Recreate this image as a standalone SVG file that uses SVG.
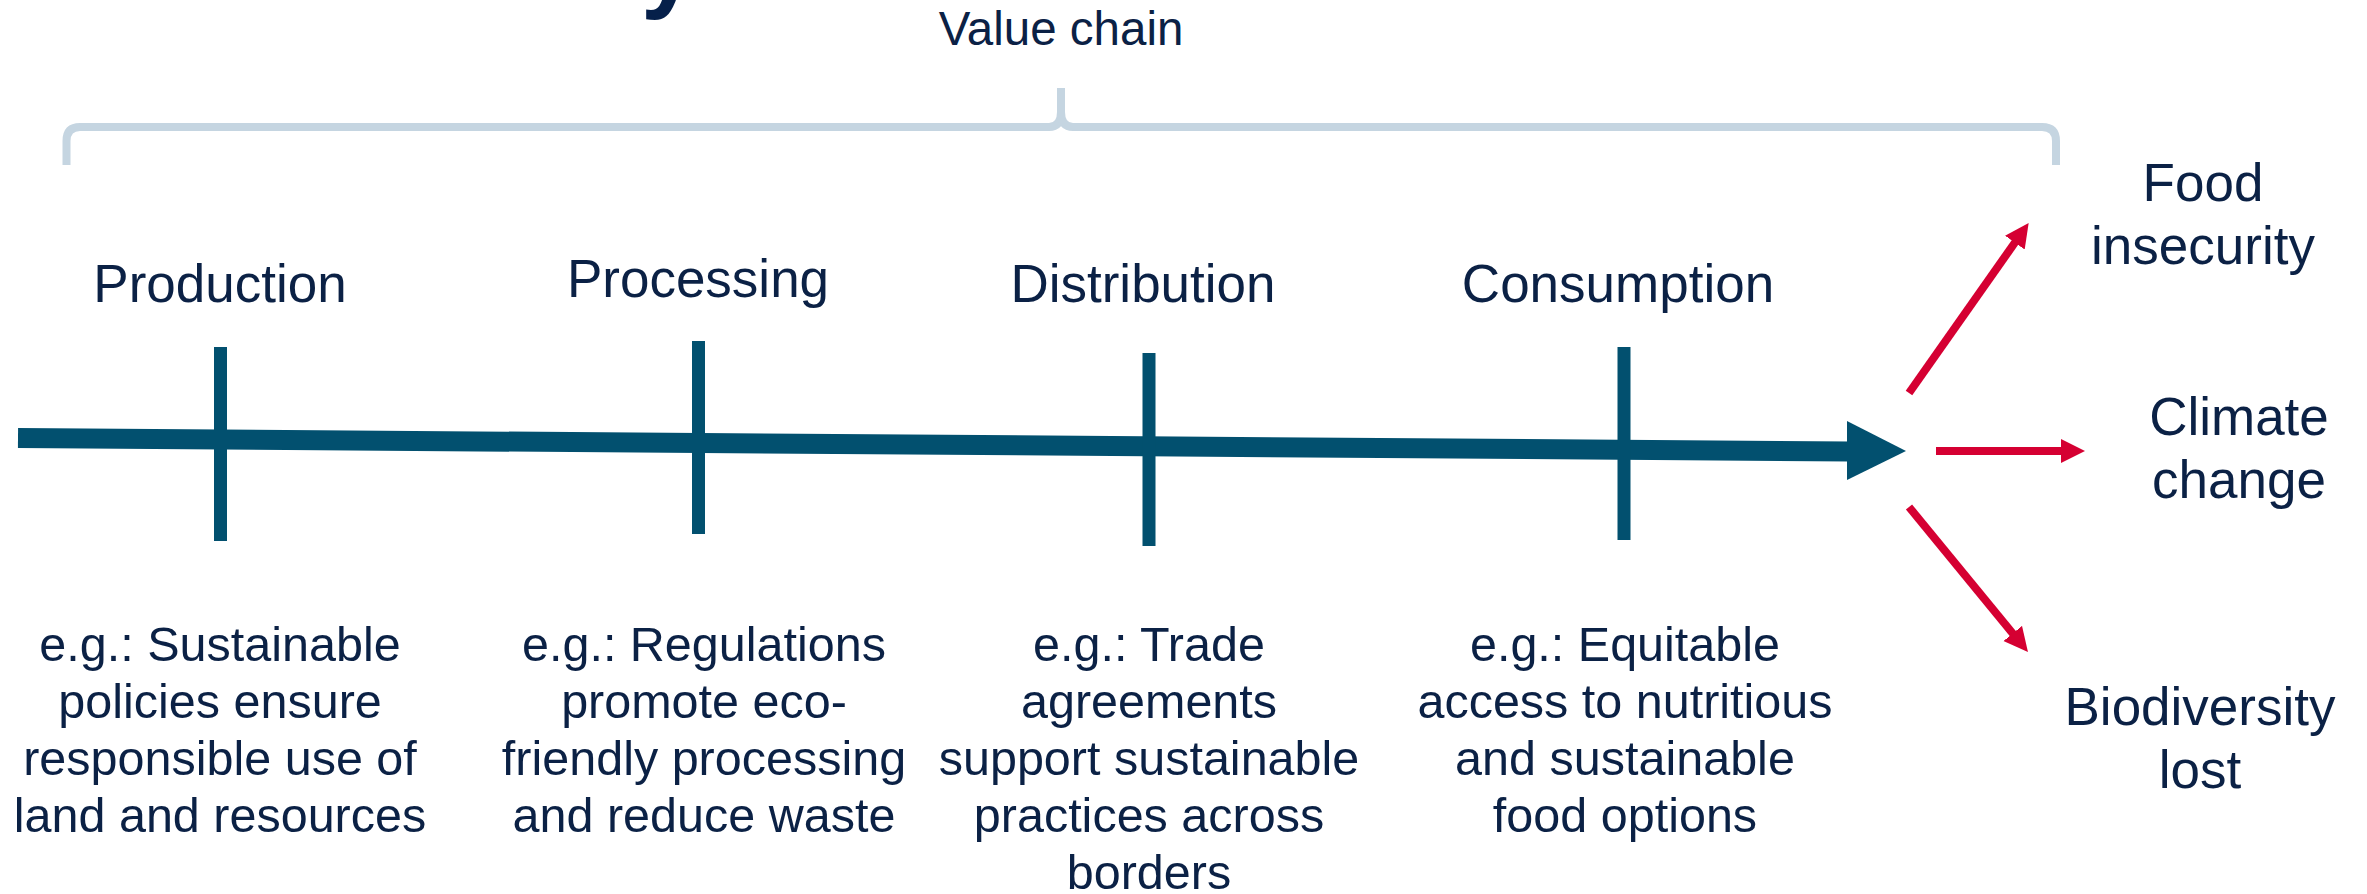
<svg xmlns="http://www.w3.org/2000/svg" width="2367" height="894" viewBox="0 0 2367 894">
  <style>
    .t { font-family: "Liberation Sans", Arial, sans-serif; fill: #0B2145; text-anchor: middle; }
    .stage { font-size: 53px; }
    .desc { font-size: 48.5px; }
    .out { font-size: 53px; }
    .tick { stroke: #02506F; stroke-width: 13; fill: none; }
    .red { stroke: #D50032; stroke-width: 8; fill: none; marker-end: url(#redHead); }
  </style>
  <defs>
    <marker id="redHead" markerUnits="userSpaceOnUse" markerWidth="26" markerHeight="26" refX="2" refY="12" orient="auto">
      <path d="M0,0 L24,12 L0,24 Z" fill="#D50032"/>
    </marker>
  </defs>
  <rect width="2367" height="894" fill="#ffffff"/>

  <!-- cropped title glyph -->
  <text x="641" y="-1" font-family="Liberation Sans, Arial, sans-serif" font-weight="bold" font-size="100" fill="#06204A">y</text>

  <g id="value-chain">
    <path d="M66.5,165 V141 Q66.5,127 80,127 H1049 Q1061,127 1061,112 V88" fill="none" stroke="#C5D5E1" stroke-width="8"/>
    <path d="M2056,165 V141 Q2056,127 2042,127 H1073 Q1061,127 1061,112" fill="none" stroke="#C5D5E1" stroke-width="8"/>
    <text class="t" x="1061" y="45" font-size="47.5">Value chain</text>
  </g>

  <g id="connectors">
    <line x1="18" y1="438" x2="1850" y2="451.5" stroke="#02506F" stroke-width="20"/>
    <polygon points="1847,421 1906,451 1847,480" fill="#02506F"/>
    <line class="red" x1="1909" y1="393" x2="2016" y2="241"/>
    <line class="red" x1="1936" y1="451" x2="2063" y2="451"/>
    <line class="red" x1="1909" y1="507" x2="2014" y2="635"/>
  </g>

  <g id="production">
    <line class="tick" x1="220.5" y1="347" x2="220.5" y2="541"/>
    <text class="t stage" x="220" y="302">Production</text>
    <text class="t desc" x="220" y="661">e.g.: Sustainable</text>
    <text class="t desc" x="220" y="718">policies ensure</text>
    <text class="t desc" x="220" y="775">responsible use of</text>
    <text class="t desc" x="220" y="832">land and resources</text>
  </g>

  <g id="processing">
    <line class="tick" x1="698.5" y1="341" x2="698.5" y2="534"/>
    <text class="t stage" x="698" y="297">Processing</text>
    <text class="t desc" x="704" y="661">e.g.: Regulations</text>
    <text class="t desc" x="704" y="718">promote eco-</text>
    <text class="t desc" x="704" y="775">friendly processing</text>
    <text class="t desc" x="704" y="832">and reduce waste</text>
  </g>

  <g id="distribution">
    <line class="tick" x1="1149" y1="353" x2="1149" y2="546"/>
    <text class="t stage" x="1143" y="302">Distribution</text>
    <text class="t desc" x="1149" y="661">e.g.: Trade</text>
    <text class="t desc" x="1149" y="718">agreements</text>
    <text class="t desc" x="1149" y="775">support sustainable</text>
    <text class="t desc" x="1149" y="832">practices across</text>
    <text class="t desc" x="1149" y="889">borders</text>
  </g>

  <g id="consumption">
    <line class="tick" x1="1624" y1="347" x2="1624" y2="540"/>
    <text class="t stage" x="1618" y="302">Consumption</text>
    <text class="t desc" x="1625" y="661">e.g.: Equitable</text>
    <text class="t desc" x="1625" y="718">access to nutritious</text>
    <text class="t desc" x="1625" y="775">and sustainable</text>
    <text class="t desc" x="1625" y="832">food options</text>
  </g>

  <g id="food-insecurity">
    <text class="t out" x="2203" y="201">Food</text>
    <text class="t out" x="2203" y="264">insecurity</text>
  </g>

  <g id="climate-change">
    <text class="t out" x="2239" y="435">Climate</text>
    <text class="t out" x="2239" y="498">change</text>
  </g>

  <g id="biodiversity-lost">
    <text class="t out" x="2200" y="725">Biodiversity</text>
    <text class="t out" x="2200" y="788">lost</text>
  </g>
</svg>
